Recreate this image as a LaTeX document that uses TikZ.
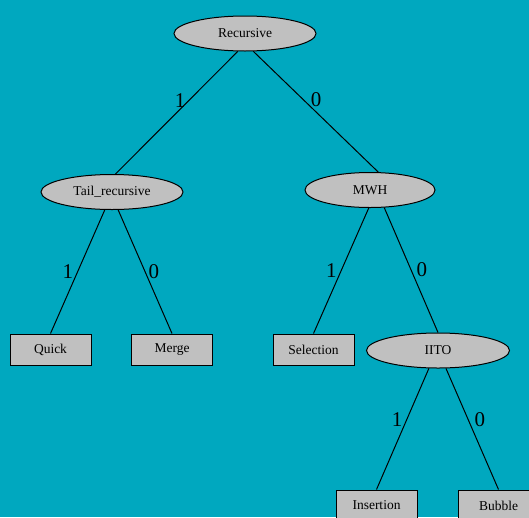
\documentclass[tikz,border=0pt]{standalone}
\usepackage{fontspec}
\setmainfont{Liberation Serif}
\usepackage{tikz}
\usetikzlibrary{shapes.geometric,backgrounds}
\definecolor{bgteal}{RGB}{0,168,191}
\definecolor{nodegrey}{RGB}{192,192,192}
\tikzset{
  choice/.style={ellipse,draw=black,fill=nodegrey,line width=1pt,
    minimum width=142pt,minimum height=35pt,inner sep=0pt,
    font=\fontsize{13.5}{16}\selectfont},
  algo/.style={rectangle,draw=black,fill=nodegrey,line width=1pt,
    minimum width=81pt,minimum height=31pt,inner sep=0pt,
    font=\fontsize{13.5}{16}\selectfont},
  branch/.style={font=\fontsize{21}{24}\selectfont,inner sep=1pt}
}

\begin{document}
\begin{tikzpicture}[x=1pt,y=-1pt,line width=1pt]
\useasboundingbox (0,0) rectangle (529,517);
\fill[bgteal] (0,0) rectangle (529,517);
\node[choice] (rec) at (245,33.5) {Recursive};
\node[choice] (tail) at (112,192) {Tail\_recursive};
\node[choice,minimum width=130pt] (mwh) at (370,190) {MWH};
\node[choice,minimum width=143pt] (iito) at (438,350.5) {IITO};
\node[algo] (quick) at (50.5,349.5) {Quick};
\node[algo] (merge) at (172,349.5) {Merge};
\node[algo] (sel) at (313.5,349.5) {Selection};
\node[algo] (ins) at (376.5,505.5) {Insertion};
\node[algo] (bub) at (498.5,505.5) {Bubble};

\draw (rec.248) -- node[branch,pos=0.4,left=2pt] {1} (tail.79);
\draw (rec.295) -- node[branch,pos=0.4,right=6pt] {0} (mwh.65);
\draw (tail.248) -- node[branch,midway,left=3pt] {1} (quick.north);
\draw (tail.289) -- node[branch,midway,right=2pt] {0} (merge.north);
\draw (mwh.266) -- node[branch,midway,left=3pt] {1} (sel.north);
\draw (mwh.309) -- node[branch,midway,right=4pt] {0} (iito.north);
\draw (iito.243) -- node[branch,pos=0.42,left=3pt] {1} (ins.north);
\draw (iito.294) -- node[branch,pos=0.42,right=5pt] {0} (bub.north);
\end{tikzpicture}
\end{document}
